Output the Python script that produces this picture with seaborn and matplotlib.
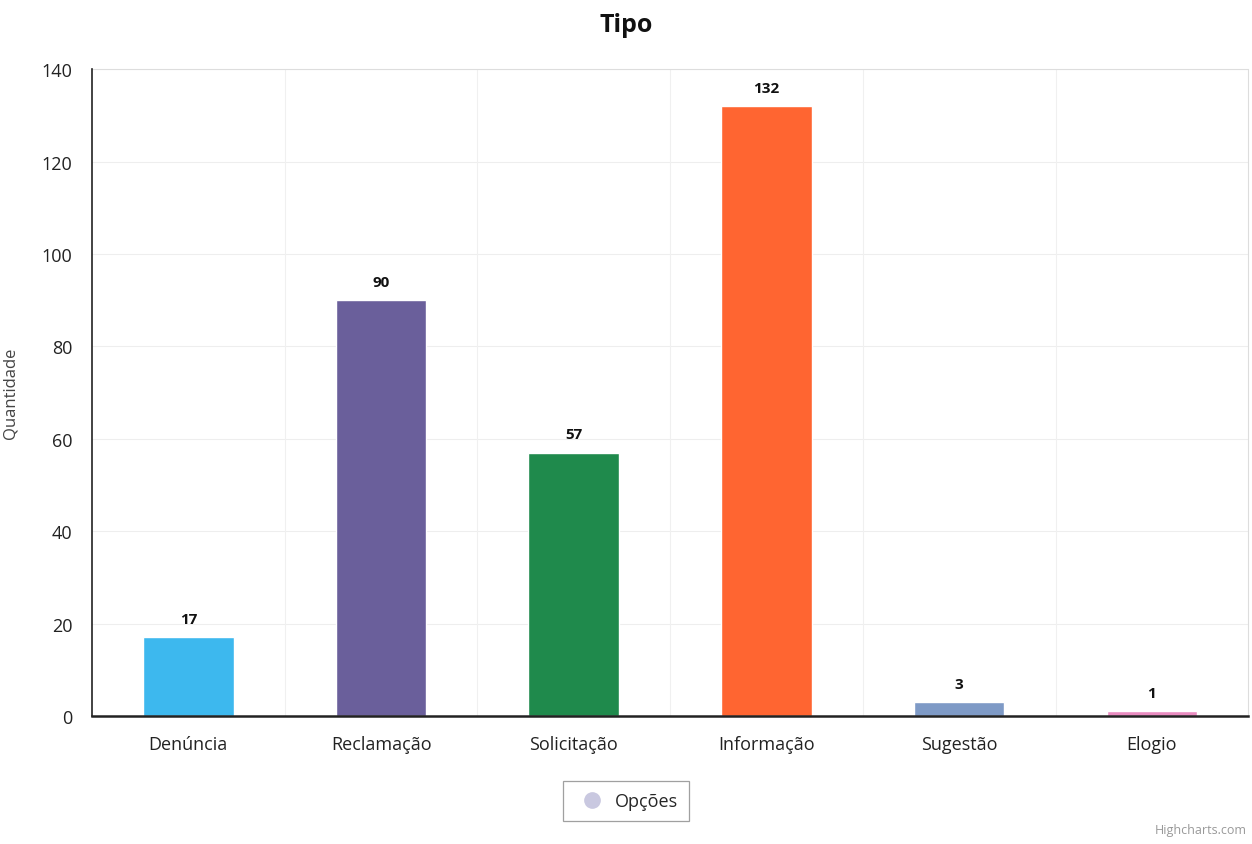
import matplotlib
matplotlib.use("Agg")
import matplotlib.pyplot as plt
from matplotlib.lines import Line2D
import seaborn as sns
import pandas as pd

categories = ["Denúncia", "Reclamação", "Solicitação", "Informação", "Sugestão", "Elogio"]
values = [17, 90, 57, 132, 3, 1]
colors = ["#3DB8EE", "#6A5F9B", "#1F8A4C", "#FF6531", "#7E9AC6", "#E98BC0"]
yticks = [0, 20, 40, 60, 80, 100, 120, 140]

sns.set_theme(style="white")
plt.rcParams["font.family"] = ["Open Sans", "DejaVu Sans"]

df = pd.DataFrame({"Tipo": categories, "Quantidade": values})

fig = plt.figure(figsize=(12.52, 8.45), dpi=100)
ax = fig.add_axes([0.0735, 0.1515, 0.9235, 0.7655])

sns.barplot(data=df, x="Tipo", y="Quantidade", hue="Tipo", palette=colors,
            width=0.47, legend=False, ax=ax, saturation=1)

ax.set_xlim(-0.5, len(categories) - 0.5)
ax.set_ylim(0, 140)
ax.set_yticks(yticks)
ax.set_yticklabels([str(t) for t in yticks], fontsize=13, color="#222222")
ax.tick_params(axis="x", labelsize=13, labelcolor="#222222", pad=14, length=0)
ax.tick_params(axis="y", pad=14, length=0)
ax.set_xlabel("")
ax.set_ylabel("Quantidade", fontsize=12, color="#444444")
ax.yaxis.set_label_coords(-0.064, 0.5)

for y in yticks[1:]:
    ax.axhline(y, color="#eeeeee", lw=0.8, zorder=0)
for xb in [i + 0.5 for i in range(len(categories) - 1)]:
    ax.axvline(xb, color="#f0f0f0", lw=0.8, zorder=0)

for s in ["top", "right"]:
    ax.spines[s].set_visible(False)
ax.spines["left"].set_color("#222222")
ax.spines["left"].set_linewidth(1.2)
ax.spines["bottom"].set_color("#222222")
ax.spines["bottom"].set_linewidth(1.8)
ax.plot([-0.5, 5.5], [140, 140], color="#dddddd", lw=0.8, clip_on=False)
ax.plot([5.5, 5.5], [0, 140], color="#dddddd", lw=0.8, clip_on=False)

for i, v in enumerate(values):
    ax.text(i, v + 2.5, str(v), ha="center", va="bottom", fontsize=11,
            fontweight="bold", color="#111111")

fig.suptitle("Tipo", x=0.5, y=0.985, fontsize=18, fontweight="bold", color="#111111")

handle = Line2D([], [], marker="o", linestyle="none", markersize=11,
                markerfacecolor="#C9C8E0", markeredgecolor="#C9C8E0")
leg = fig.legend([handle], ["Opções"], loc="center", bbox_to_anchor=(0.5, 0.051),
                 frameon=True, fontsize=13, handletextpad=0.3, borderpad=0.6,
                 fancybox=False)
leg.get_frame().set_edgecolor("#888888")
leg.get_frame().set_linewidth(0.9)

fig.text(0.996, 0.01, "Highcharts.com", ha="right", va="bottom", fontsize=9, color="#999999")

fig.savefig("out.png", dpi=100, facecolor="white")
